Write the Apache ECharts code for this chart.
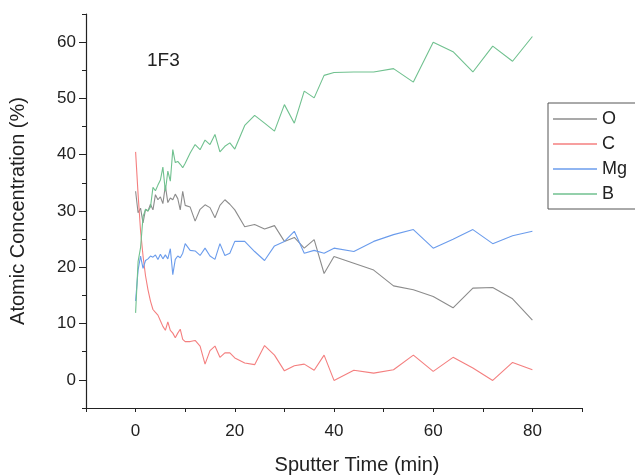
<!DOCTYPE html>
<html>
<head>
<meta charset="utf-8">
<script src="https://cdn.jsdelivr.net/npm/echarts@6/dist/echarts.min.js"></script>
<style>
html,body{margin:0;padding:0;background:#fff;}
#c{width:635px;height:476px;}
</style>
</head>
<body>
<div id="c"></div>
<script>
const times = [0,0.5,1,1.5,2,2.5,3,3.5,4,4.5,5,5.5,6,6.5,7,7.5,8,8.5,9,9.5,10,
  11,12,13,14,15,16,17,18,19,20,
  22,24,26,28,30,32,34,36,38,40,
  44,48,52,56,60,64,68,72,76,80];
const seriesNames = ['O','C','Mg','B'];
const O = [33.5,29.7,30.5,27.9,30.3,30.0,31.2,30.2,32.9,32.0,32.5,31.3,34.5,31.5,32.3,32.0,33.0,32.2,30.2,33.5,31.0,
  30.7,28.2,30.3,31.1,30.6,28.8,31.0,32.0,31.2,30.2,
  27.2,27.6,26.8,27.4,24.6,25.3,23.4,24.9,18.9,21.9,
  20.7,19.5,16.7,16.0,14.8,12.8,16.3,16.4,14.4,10.6];
const C = [40.5,33.0,26.5,22.0,18.5,16.0,14.0,12.5,12.0,11.5,10.5,9.5,8.8,10.3,8.8,8.3,7.5,8.3,9.0,7.2,6.8,
  6.8,7.0,6.0,2.8,5.2,6.0,4.0,4.8,4.8,3.9,
  3.0,2.7,6.1,4.4,1.6,2.5,2.8,1.7,4.4,-0.1,
  1.7,1.2,1.8,4.4,1.5,4.0,2.1,-0.1,3.1,1.8];
const Mg = [14.0,19.5,22.0,19.8,21.2,21.5,22.0,21.8,22.2,21.4,22.3,21.5,22.2,21.5,23.3,18.7,21.4,22.0,21.7,22.5,24.2,
  23.0,22.9,22.1,23.4,22.0,21.4,24.2,22.1,22.5,24.6,
  24.6,22.8,21.2,23.8,24.6,26.4,22.5,23.0,22.5,23.4,
  22.8,24.6,25.8,26.7,23.4,25.0,26.7,24.2,25.6,26.4];
const B = [11.9,21.0,23.5,29.0,30.3,30.0,30.7,34.2,33.6,34.6,35.5,37.8,33.5,37.1,35.3,40.9,38.6,38.8,38.3,37.7,38.5,
  40.3,41.8,40.9,42.6,41.8,43.6,40.5,41.5,42.1,41.0,
  45.2,47.0,45.6,44.2,48.9,45.6,51.3,50.1,54.1,54.6,
  54.7,54.7,55.3,52.9,60.0,58.3,54.7,59.3,56.6,61.0];
const xMajorLabels = [0,20,40,60,80];
const yMajorLabels = [0,10,20,30,40,50,60];
const yMinorTicks = [-5,5,15,25,35,45,55,65];
const colors = ['#8c8c8c','#f47f7f','#6b9cec','#70c18f'];
const allValues = [O,C,Mg,B];

const font = 'Liberation Sans, Arial, sans-serif';
const chart = echarts.init(document.getElementById('c'), null, {renderer:'canvas'});
const series = seriesNames.map((n,i)=>({
  name:n, type:'line', symbol:'none', xAxisIndex:0, yAxisIndex:0,
  data: times.map((t,j)=>[t, allValues[i][j]]),
  lineStyle:{width:1.1, color:colors[i]}, itemStyle:{color:colors[i]},
  emphasis:{disabled:true}, animation:false
}));
chart.setOption({
  animation:false,
  backgroundColor:'#fff',
  textStyle:{fontFamily:font},
  title:{text:'1F3', left:142, top:46, textStyle:{fontFamily:font, fontSize:19, fontWeight:'normal', color:'#222'}},
  legend:{
    orient:'vertical', left:548, top:103,
    data:seriesNames,
    icon:'rect', itemWidth:44, itemHeight:1.5, itemGap:7,
    padding:[7,60,6,5],
    borderColor:'#555', borderWidth:1,
    textStyle:{fontFamily:font, fontSize:18, color:'#222', padding:[0,0,0,0]},
  },
  grid:{left:86, top:14, right:53, bottom:68, containLabel:false, outerBoundsMode:'none'},
  xAxis:{
    type:'value', min:-10, max:90, interval:10,
    name:'Sputter Time (min)', nameLocation:'middle', nameGap:47,
    nameTextStyle:{fontFamily:font, fontSize:20, color:'#222', padding:[0,0,0,46]},
    axisLine:{onZero:false, lineStyle:{color:'#222', width:1.2}},
    axisTick:{show:true, length:4, inside:false, lineStyle:{color:'#222'}},
    axisLabel:{fontFamily:font, fontSize:17, color:'#222', margin:15,
      formatter:v=> xMajorLabels.indexOf(v)>=0 ? String(v) : ''},
    splitLine:{show:false}
  },
  yAxis:[{
    type:'value', min:-5, max:65, interval:5,
    name:'Atomic Concentration (%)', nameLocation:'middle', nameGap:58,
    nameTextStyle:{fontFamily:font, fontSize:20, color:'#222'},
    axisLine:{onZero:false, lineStyle:{color:'#222', width:1.2}},
    axisTick:{show:true, length:7, customValues:yMajorLabels, lineStyle:{color:'#222'}},
    axisLabel:{fontFamily:font, fontSize:17, color:'#222', margin:10, customValues:yMajorLabels},
    splitLine:{show:false}
  },{
    type:'value', min:-5, max:65, interval:5, position:'left',
    axisLine:{show:false, onZero:false},
    axisTick:{show:true, length:4, customValues:yMinorTicks, lineStyle:{color:'#222'}},
    axisLabel:{show:false},
    splitLine:{show:false}
  }],
  series: series
});
</script>
</body>
</html>
